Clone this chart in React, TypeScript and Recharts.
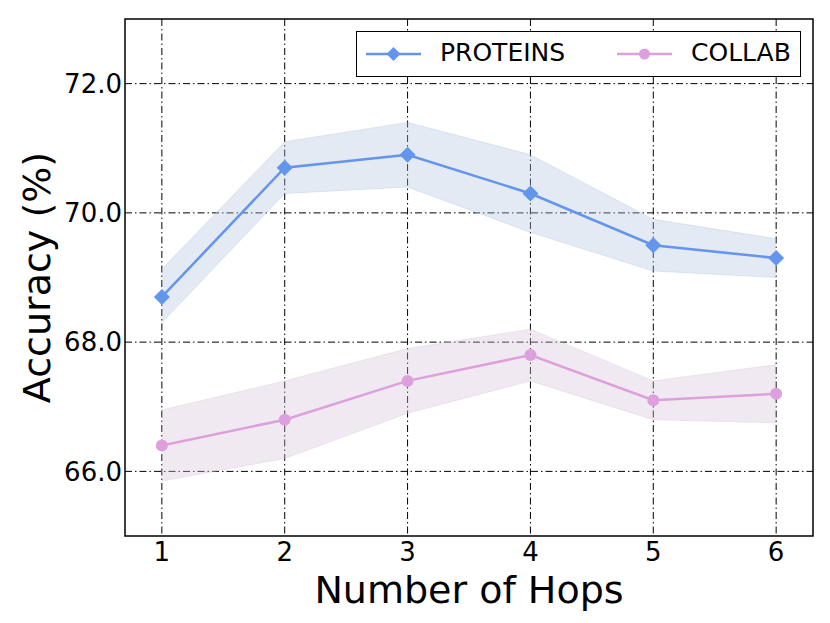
import { ComposedChart, Line, Area, XAxis, YAxis, CartesianGrid, ReferenceArea, Legend, Label } from 'recharts';

const hops = [1, 2, 3, 4, 5, 6];
const proteinsMean = [68.7, 70.7, 70.9, 70.3, 69.5, 69.3];
const proteinsLow = [68.3, 70.3, 70.4, 69.7, 69.1, 69.0];
const proteinsHigh = [69.13, 71.1, 71.4, 70.9, 69.9, 69.6];
const collabMean = [66.4, 66.8, 67.4, 67.8, 67.1, 67.2];
const collabLow = [65.85, 66.2, 66.9, 67.4, 66.8, 66.75];
const collabHigh = [66.95, 67.4, 67.9, 68.2, 67.4, 67.65];
const xTicks = [1, 2, 3, 4, 5, 6];
const yTicks = [66, 68, 70, 72];

const BLUE = '#6495ed';
const PLUM = '#dda0dd';
const FONT = '"DejaVu Sans", sans-serif';

const data = hops.map((h, i) => ({
  hop: h,
  proteins: proteinsMean[i],
  proteinsBand: [proteinsLow[i], proteinsHigh[i]],
  collab: collabMean[i],
  collabBand: [collabLow[i], collabHigh[i]],
}));

const Diamond = (props: any) => {
  const { cx, cy } = props;
  if (cx == null || cy == null) return null;
  const r = 8;
  return (
    <polygon
      points={`${cx},${cy - r} ${cx + r},${cy} ${cx},${cy + r} ${cx - r},${cy}`}
      fill={BLUE}
    />
  );
};

const LegendBox = () => (
  <div
    style={{
      position: 'relative',
      width: 445,
      height: 46,
      boxSizing: 'border-box',
      border: '1.5px solid #000',
      background: '#fff',
      fontFamily: FONT,
      fontSize: 25,
      color: '#000',
    }}
  >
    <svg width={60} height={20} style={{ position: 'absolute', left: 7, top: 12 }}>
      <line x1={2} y1={10} x2={57} y2={10} stroke={BLUE} strokeWidth={2.5} />
      <polygon points="29.5,3 36.5,10 29.5,17 22.5,10" fill={BLUE} />
    </svg>
    <span style={{ position: 'absolute', left: 83, top: 6, lineHeight: '30px' }}>PROTEINS</span>
    <svg width={60} height={20} style={{ position: 'absolute', left: 258, top: 12 }}>
      <line x1={2} y1={10} x2={57} y2={10} stroke={PLUM} strokeWidth={2.5} />
      <circle cx={29.5} cy={10} r={5.5} fill={PLUM} />
    </svg>
    <span style={{ position: 'absolute', left: 334, top: 6, lineHeight: '30px' }}>COLLAB</span>
  </div>
);

export default function App() {
  return (
    <div style={{ fontFamily: FONT }}>
      <ComposedChart
        width={822}
        height={615}
        data={data}
        margin={{ top: 11, right: 17, bottom: 0, left: 0 }}
      >
        <CartesianGrid
          stroke="#000"
          strokeWidth={1}
          strokeDasharray="7 3 1.5 3"
          verticalValues={xTicks}
          horizontalValues={yTicks}
        />
        <XAxis
          dataKey="hop"
          type="number"
          domain={[0.7, 6.3]}
          ticks={xTicks}
          allowDataOverflow
          height={87}
          axisLine={false}
          tickLine={false}
          tickSize={0}
          tickMargin={7}
          tick={{ fill: '#000', fontSize: 26, fontFamily: FONT }}
        >
          <Label
            value="Number of Hops"
            position="insideBottom"
            offset={20}
            style={{ fill: '#000', fontSize: 38, fontFamily: FONT }}
          />
        </XAxis>
        <YAxis
          type="number"
          domain={[65, 73]}
          ticks={yTicks}
          allowDataOverflow
          width={117}
          axisLine={false}
          tickLine={false}
          tickSize={0}
          tickMargin={3}
          tickFormatter={(v: number) => v.toFixed(1)}
          tick={{ fill: '#000', fontSize: 26, fontFamily: FONT }}
        >
          <Label
            value="Accuracy (%)"
            angle={-90}
            position="insideLeft"
            offset={29}
            style={{ fill: '#000', fontSize: 38, fontFamily: FONT, textAnchor: 'middle' }}
          />
        </YAxis>
        <Area
          type="linear"
          dataKey="proteinsBand"
          fill="#b0c4de"
          fillOpacity={0.35}
          stroke="#b0c4de"
          strokeOpacity={0.35}
          isAnimationActive={false}
          legendType="none"
        />
        <Area
          type="linear"
          dataKey="collabBand"
          fill="#d8bfd8"
          fillOpacity={0.35}
          stroke="#d8bfd8"
          strokeOpacity={0.35}
          isAnimationActive={false}
          legendType="none"
        />
        <Line
          type="linear"
          dataKey="proteins"
          name="PROTEINS"
          stroke={BLUE}
          strokeWidth={2.5}
          dot={<Diamond />}
          activeDot={false}
          isAnimationActive={false}
        />
        <Line
          type="linear"
          dataKey="collab"
          name="COLLAB"
          stroke={PLUM}
          strokeWidth={2.5}
          dot={{ r: 6, fill: PLUM, stroke: PLUM, strokeWidth: 0 }}
          activeDot={false}
          isAnimationActive={false}
        />
        <ReferenceArea
          x1={0.7}
          x2={6.3}
          y1={65}
          y2={73}
          fill="none"
          stroke="#000"
          strokeWidth={1.5}
          ifOverflow="visible"
        />
        <Legend
          layout="horizontal"
          verticalAlign="middle"
          align="center"
          content={() => <LegendBox />}
          wrapperStyle={{ top: 23, left: 348, width: 445, height: 46 }}
        />
      </ComposedChart>
    </div>
  );
}
